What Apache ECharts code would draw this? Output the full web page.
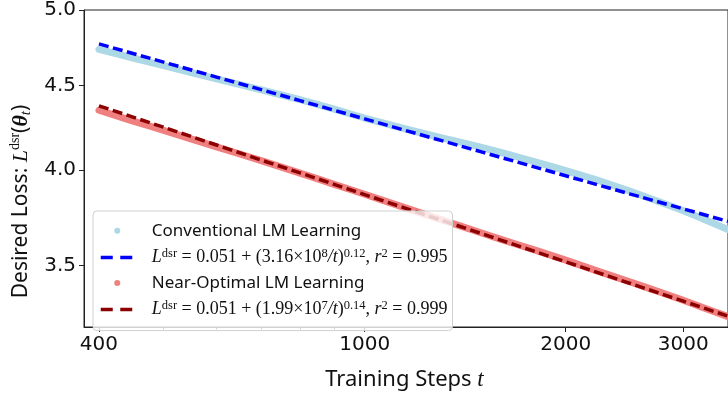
<!DOCTYPE html>
<html>
<head>
<meta charset="utf-8">
<script src="https://cdn.jsdelivr.net/npm/echarts@6/dist/echarts.min.js"></script>
<style>
html,body{margin:0;padding:0;background:#fff;}
#chart{width:728px;height:396px;}
</style>
</head>
<body>
<div id="chart"></div>
<script>
// ---- data ----
const trainSteps = [400, 450, 500, 600, 700, 800, 900, 1000, 1200, 1400, 1600, 1800, 2000, 2200, 2500, 2800, 3000, 3200, 3500];
const conventionalLoss = [4.732, 4.676, 4.626, 4.541, 4.472, 4.412, 4.354, 4.300, 4.217, 4.155, 4.098, 4.045, 3.996, 3.950, 3.882, 3.818, 3.778, 3.737, 3.680];
const nearOptimalLoss = [4.347, 4.282, 4.227, 4.130, 4.052, 3.982, 3.920, 3.866, 3.772, 3.695, 3.630, 3.576, 3.526, 3.480, 3.420, 3.367, 3.334, 3.302, 3.259];

const fitSteps = [400, 500, 600, 700, 800, 900, 1000, 1200, 1500, 2000, 2500, 3000, 3500];
const conventionalFit = [4.769, 4.649, 4.553, 4.474, 4.406, 4.347, 4.295, 4.206, 4.100, 3.967, 3.867, 3.788, 3.722];
const nearOptimalFit = [4.374, 4.245, 4.141, 4.055, 3.983, 3.920, 3.864, 3.770, 3.658, 3.518, 3.413, 3.330, 3.261];

const xTickLabels = [400, 1000, 2000, 3000];
const xMinorTicks = [500, 600, 700, 800, 900];
const yTickLabels = [3.5, 4.0, 4.5, 5.0];
const xRange = [379.9, 3500];
const yRange = [3.212, 5.0];

const seriesNames = [
  'Conventional LM Learning',
  'fitConv',
  'Near-Optimal LM Learning',
  'fitOpt'
];

// ---- helpers ----
const lg = Math.log10;
const pairs = (xs, ys) => xs.map((x, i) => [lg(x), lg(ys[i])]);

const SANS = '"Noto Sans", "Open Sans", sans-serif';
const SERIF = '"Liberation Serif", "DejaVu Serif", serif';
const TICKF = '"DejaVu Sans", sans-serif';

const mathRich = {
  n: {fontFamily: SERIF, fontSize: 18, lineHeight: 21, color: '#111'},
  i: {fontFamily: SERIF, fontSize: 18, lineHeight: 21, fontStyle: 'italic', color: '#111'},
  sup: {fontFamily: SERIF, fontSize: 12.5, color: '#111', padding: [0, 0, 7, 0]},
  t: {fontFamily: SANS, fontSize: 17, lineHeight: 21, color: '#111'}
};

const legendLabels = {
  'Conventional LM Learning': '{t|Conventional LM Learning}',
  'fitConv': '{i|L}{sup|dsr}{n| = 0.051 + (3.16×10}{sup|8}{i|/t}{n|)}{sup|0.12}{n|, }{i|r}{sup|2}{n| = 0.995}',
  'Near-Optimal LM Learning': '{t|Near-Optimal LM Learning}',
  'fitOpt': '{i|L}{sup|dsr}{n| = 0.051 + (1.99×10}{sup|7}{i|/t}{n|)}{sup|0.14}{n|, }{i|r}{sup|2}{n| = 0.999}'
};

const chart = echarts.init(document.getElementById('chart'), null, {renderer: 'canvas'});

const xAxisBase = {
  type: 'value',
  min: lg(xRange[0]),
  max: lg(xRange[1]),
  splitLine: {show: false},
  axisLine: {show: true, lineStyle: {color: '#222', width: 1}}
};

chart.setOption({
  animation: false,
  backgroundColor: '#fff',
  grid: {
    left: 84, right: -10, top: 9, bottom: 63,
    show: true, borderColor: '#222', borderWidth: 1, backgroundColor: 'transparent'
  },
  xAxis: [
    Object.assign({}, xAxisBase, {
      name: '{a|Training Steps }{b|t}',
      nameLocation: 'middle',
      nameGap: 41,
      nameTextStyle: {
        padding: [0, 3, 0, 0],
        rich: {
          a: {fontFamily: SANS, fontSize: 22, color: '#111'},
          b: {fontFamily: SERIF, fontSize: 23, fontStyle: 'italic', color: '#111'}
        }
      },
      axisTick: {show: true, length: 5, lineStyle: {color: '#222'}, customValues: xTickLabels.map(lg)},
      axisLabel: {
        show: true, margin: 8, fontSize: 20, fontFamily: TICKF, color: '#111',
        customValues: xTickLabels.map(lg),
        formatter: v => String(Math.round(Math.pow(10, v)))
      }
    }),
    Object.assign({}, xAxisBase, {
      position: 'bottom',
      axisLine: {show: false},
      axisTick: {show: true, length: 2.5, lineStyle: {color: '#222'}, customValues: xMinorTicks.map(lg)},
      axisLabel: {show: false}
    })
  ],
  yAxis: {
    type: 'value',
    min: lg(yRange[0]),
    max: lg(yRange[1]),
    splitLine: {show: false},
    axisLine: {show: true, lineStyle: {color: '#222', width: 1}},
    axisTick: {show: true, length: 5, lineStyle: {color: '#222'}, customValues: yTickLabels.map(lg)},
    axisLabel: {
      show: true, margin: 8, fontSize: 20, fontFamily: TICKF, color: '#111',
      customValues: yTickLabels.map(lg),
      formatter: v => Math.pow(10, v).toFixed(1)
    },
    name: '{a|Desired Loss: }{i|L}{sup|dsr}{a|(}{th|θ}{sub|t}{a|)}',
    nameLocation: 'middle',
    nameRotate: 90,
    nameGap: 49,
    nameTextStyle: {
      padding: [0, 66, 0, 0],
      rich: {
        a: {fontFamily: SANS, fontSize: 21, color: '#111'},
        i: {fontFamily: SERIF, fontSize: 22, fontStyle: 'italic', color: '#111'},
        sup: {fontFamily: SERIF, fontSize: 14, color: '#111', padding: [0, 0, 11, 0]},
        th: {fontFamily: SERIF, fontSize: 22, fontStyle: 'italic', fontWeight: 'bold', color: '#111'},
        sub: {fontFamily: SERIF, fontSize: 15, fontStyle: 'italic', color: '#111', padding: [9, 0, 0, 0]}
      }
    }
  },
  legend: {
    orient: 'vertical',
    left: 93,
    top: 211,
    itemWidth: 33,
    itemHeight: 6,
    itemGap: 8.1,
    padding: [11.3, 5, 12, 6],
    borderColor: '#d0d0d0',
    borderWidth: 1,
    borderRadius: 4,
    backgroundColor: 'rgba(255,255,255,0.8)',
    textStyle: {padding: [0, 0, 0, 13], rich: mathRich},
    formatter: name => legendLabels[name],
    data: [
      {name: seriesNames[0], icon: 'circle', itemStyle: {color: '#ADD8E6'}},
      {name: seriesNames[1], itemStyle: {opacity: 0}, lineStyle: {width: 3.5, type: [12, 7.5], color: '#0000FF'}},
      {name: seriesNames[2], icon: 'circle', itemStyle: {color: '#F08080'}},
      {name: seriesNames[3], itemStyle: {opacity: 0}, lineStyle: {width: 3.5, type: [12, 7.5], color: '#8B0000'}}
    ]
  },
  series: [
    {
      name: seriesNames[0], type: 'line', data: pairs(trainSteps, conventionalLoss),
      symbol: 'none', smooth: 0.2, color: '#ADD8E6', lineStyle: {width: 7, cap: 'round', join: 'round', color: '#ADD8E6'}, z: 2
    },
    {
      name: seriesNames[1], type: 'line', data: pairs(fitSteps, conventionalFit),
      symbol: 'none', color: '#0000FF', lineStyle: {width: 3.5, type: [10, 4.5], color: '#0000FF'}, z: 3
    },
    {
      name: seriesNames[2], type: 'line', data: pairs(trainSteps, nearOptimalLoss),
      symbol: 'none', smooth: 0.2, color: '#F08080', lineStyle: {width: 7, cap: 'round', join: 'round', color: '#F08080'}, z: 2
    },
    {
      name: seriesNames[3], type: 'line', data: pairs(fitSteps, nearOptimalFit),
      symbol: 'none', color: '#8B0000', lineStyle: {width: 3.5, type: [10, 4.5], color: '#8B0000'}, z: 3
    }
  ]
});
</script>
</body>
</html>
